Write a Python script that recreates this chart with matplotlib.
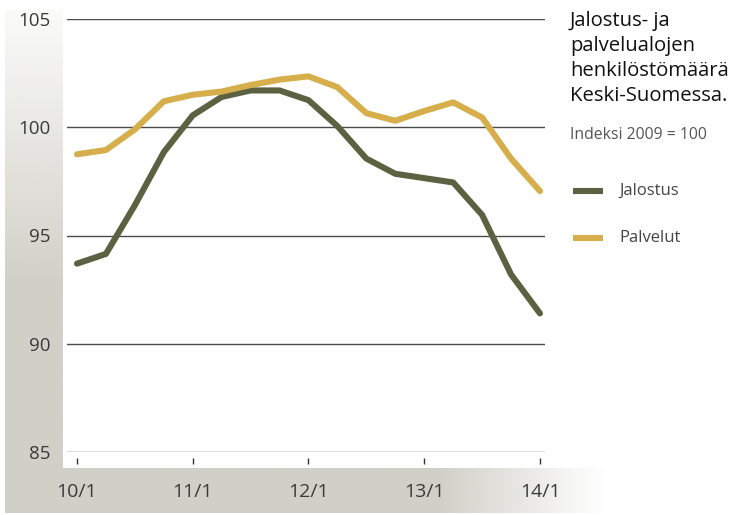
import numpy as np
import matplotlib
matplotlib.use('Agg')
import matplotlib.pyplot as plt

plt.rcParams['font.family'] = ['Open Sans', 'DejaVu Sans']

# Quarterly index values, 2009 = 100
quarters = list(range(17))
tick_pos = [0, 4, 8, 12, 16]
tick_labels = ['10/1', '11/1', '12/1', '13/1', '14/1']
jalostus = [93.7, 94.15, 96.4, 98.85, 100.55, 101.4, 101.7, 101.7, 101.25,
            100.05, 98.55, 97.85, 97.65, 97.45, 95.95, 93.2, 91.4]
palvelut = [98.75, 98.95, 99.9, 101.2, 101.5, 101.65, 101.95, 102.2, 102.35,
            101.85, 100.65, 100.3, 100.75, 101.15, 100.45, 98.55, 97.05]
yticks = [85, 90, 95, 100, 105]

W, H = 730, 515
C_JAL = '#5b6141'
C_PAL = '#d6ae4b'
GRAY = np.array([209, 208, 200]) / 255.0

fig = plt.figure(figsize=(W / 100, H / 100), dpi=100)


def px_axes(x0, y0, x1, y1, **kw):
    return fig.add_axes([x0 / W, 1 - y1 / H, (x1 - x0) / W, (y1 - y0) / H], **kw)


# gray L-shaped background with fades
bg = px_axes(0, 0, W, H)
bg.set_xlim(0, W)
bg.set_ylim(H, 0)
bg.axis('off')

n = 200
col = np.zeros((n, 1, 4))
col[:, 0, :3] = GRAY
col[:, 0, 3] = np.clip(np.linspace(0.1, 1.6, n), 0, 1)
bg.imshow(col, extent=(5, 63, 468, 10), aspect='auto', interpolation='bilinear')

row = np.zeros((1, n, 4))
row[0, :, :3] = GRAY
xs = np.linspace(5, 607, n)
row[0, :, 3] = np.clip((607 - xs) / (607 - 440), 0, 1)
bg.imshow(row, extent=(5, 607, 513, 468), aspect='auto', interpolation='bilinear')

# main chart
ax = px_axes(67, 19, 545, 452)
ax.patch.set_alpha(0)
ax.set_xlim(-10 / 28.94, 16 + 5 / 28.94)
ax.set_ylim(85, 105)

for v in yticks:
    ax.axhline(v, color='#4a4a4a', lw=1.0, zorder=1)

ax.plot(quarters, jalostus, color=C_JAL, lw=4.4, solid_joinstyle='round',
        solid_capstyle='round', zorder=3)
ax.plot(quarters, palvelut, color=C_PAL, lw=4.4, solid_joinstyle='round',
        solid_capstyle='round', zorder=3)

for s in ax.spines.values():
    s.set_visible(False)
ax.spines['bottom'].set_position(('outward', 4.5))

ax.set_yticks(yticks)
ax.set_yticklabels([str(v) for v in yticks])
ax.tick_params(axis='y', length=0, pad=12, labelsize=13.5, labelcolor='#3a3a3a')
ax.set_xticks(tick_pos)
ax.set_xticklabels(tick_labels)
ax.tick_params(axis='x', direction='out', length=4, width=1, color='#333333',
               pad=14, labelsize=14, labelcolor='#3a3a3a')

# title and legend on the right
fig.text(570 / W, 1 - 11 / H,
         'Jalostus- ja\npalvelualojen\nhenkilöstömäärä\nKeski-Suomessa.',
         ha='left', va='top', fontsize=14.6, color='#111111', linespacing=1.33)
fig.text(570 / W, 1 - 135 / H, 'Indeksi 2009 = 100', ha='left', va='center',
         fontsize=11.3, color='#555555')

leg = px_axes(0, 0, W, H)
leg.set_xlim(0, W)
leg.set_ylim(H, 0)
leg.axis('off')
for yy, c, lab in [(191, C_JAL, 'Jalostus'), (238, C_PAL, 'Palvelut')]:
    leg.plot([573, 603], [yy, yy], color=c, lw=4.4, solid_capstyle='butt')
    leg.text(619, yy, lab, ha='left', va='center', fontsize=12, color='#444444')

fig.savefig('out.png', dpi=100)
